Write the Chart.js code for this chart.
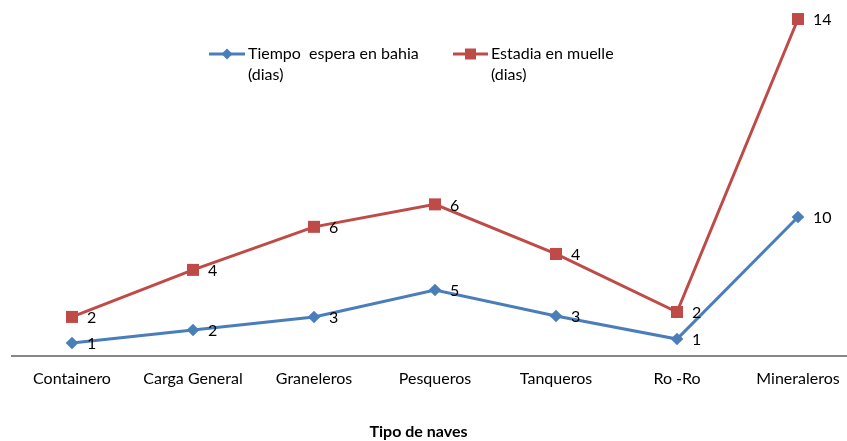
<!DOCTYPE html>
<html>
<head>
<meta charset="utf-8">
<script src="https://cdn.jsdelivr.net/npm/chart.js@4.4.0/dist/chart.umd.min.js"></script>
<style>
html,body{margin:0;padding:0;background:#fff;overflow:hidden;width:847px;height:441px}
#wrap{position:relative;width:860px;height:441px}
</style>
</head>
<body>
<div id="wrap"><canvas id="c" width="860" height="441"></canvas></div>
<script>
// ---- data ----
const categories = ["Containero", "Carga General", "Graneleros", "Pesqueros", "Tanqueros", "Ro -Ro", "Mineraleros"];
const esperaBahia = [0.93, 1.85, 2.78, 4.70, 2.85, 1.21, 9.90];     // primary axis
const estadiaMuelle = [1.67, 3.68, 5.52, 6.48, 4.36, 1.88, 14.40];  // secondary axis
const seriesNames = [["Tiempo  espera en bahia", "(dias)"], ["Estadia en muelle", "(dias)"]];
const xAxisTitle = "Tipo de naves";

const BLUE = "#4A7EBB";
const RED = "#BE4B48";
const FONT = "Lato, 'Open Sans', sans-serif";

const extras = {
  id: "extras",
  afterDatasetsDraw(chart) {
    const ctx = chart.ctx;
    ctx.save();
    ctx.fillStyle = "#000";
    ctx.font = "16px " + FONT;
    ctx.textBaseline = "middle";
    ctx.textAlign = "left";
    chart.data.datasets.forEach((ds, i) => {
      const meta = chart.getDatasetMeta(i);
      meta.data.forEach((pt, j) => {
        ctx.fillText(String(Math.round(ds.data[j])), pt.x + 15, pt.y + 1);
      });
    });
    ctx.restore();
  },
  afterDraw(chart) {
    const ctx = chart.ctx;
    ctx.save();
    // legend
    const items = [
      {x0: 209, x1: 245, tx: 248, color: BLUE, style: "diamond", names: seriesNames[0]},
      {x0: 453, x1: 488, tx: 491, color: RED, style: "square", names: seriesNames[1]}
    ];
    const ly = 54;
    items.forEach(it => {
      ctx.strokeStyle = it.color;
      ctx.lineWidth = 3;
      ctx.beginPath();
      ctx.moveTo(it.x0, ly);
      ctx.lineTo(it.x1, ly);
      ctx.stroke();
      const cx = (it.x0 + it.x1) / 2;
      ctx.fillStyle = it.color;
      ctx.beginPath();
      if (it.style === "diamond") {
        const r = 5.5;
        ctx.moveTo(cx - r, ly); ctx.lineTo(cx, ly - r); ctx.lineTo(cx + r, ly); ctx.lineTo(cx, ly + r);
      } else {
        const s = 5.5;
        ctx.rect(cx - s, ly - s, 2 * s, 2 * s);
      }
      ctx.closePath();
      ctx.fill();
      ctx.fillStyle = "#000";
      ctx.font = "16px " + FONT;
      ctx.textBaseline = "middle";
      ctx.textAlign = "left";
      it.names.forEach((t, k) => ctx.fillText(t, it.tx, ly + k * 21));
    });
    // axis title
    ctx.fillStyle = "#000";
    ctx.font = "bold 16px " + FONT;
    ctx.textAlign = "center";
    ctx.textBaseline = "middle";
    ctx.fillText(xAxisTitle, 418.5, 432);
    ctx.restore();
  }
};

new Chart(document.getElementById("c"), {
  type: "line",
  data: {
    labels: categories,
    datasets: [
      {
        label: seriesNames[0].join(" "),
        data: esperaBahia,
        yAxisID: "y",
        borderColor: BLUE,
        backgroundColor: BLUE,
        borderWidth: 3,
        pointStyle: "rectRot",
        pointRadius: 6.3,
        pointBorderWidth: 0,
        pointBackgroundColor: BLUE,
        tension: 0
      },
      {
        label: seriesNames[1].join(" "),
        data: estadiaMuelle,
        yAxisID: "y2",
        borderColor: RED,
        backgroundColor: RED,
        borderWidth: 3,
        pointStyle: "rect",
        pointRadius: 8.5,
        pointBorderWidth: 0,
        pointBackgroundColor: RED,
        tension: 0
      }
    ]
  },
  options: {
    responsive: false,
    animation: false,
    events: [],
    layout: {autoPadding: false, padding: {left: 11.5, right: 1.5, top: 5, bottom: 0}},
    plugins: {legend: {display: false}, tooltip: {enabled: false}, title: {display: false}},
    scales: {
      x: {
        offset: true,
        grid: {display: false, drawTicks: false},
        border: {display: true, color: "#878787", width: 2},
        ticks: {color: "#000", font: {family: FONT, size: 16}, padding: 13, maxRotation: 0, autoSkip: false},
        afterFit(scale) { scale.height = 85; }
      },
      y: {display: false, min: 0, max: 25},
      y2: {display: false, min: 0, max: 15}
    }
  },
  plugins: [extras]
});
</script>
</body>
</html>
